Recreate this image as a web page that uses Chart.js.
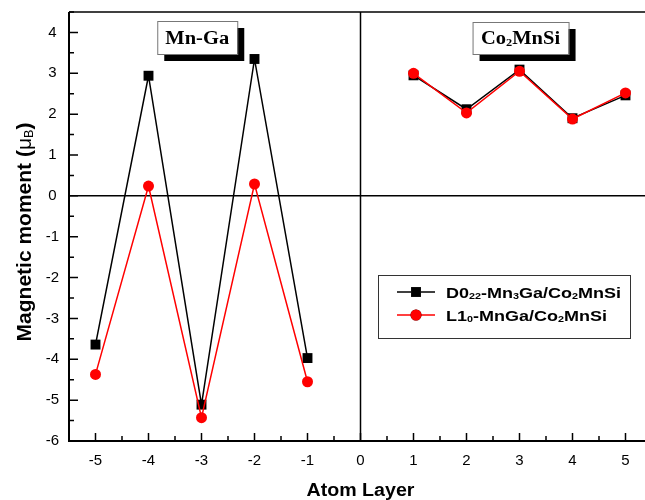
<!DOCTYPE html>
<html lang="en">
<head>
<meta charset="UTF-8" />
<title>Layer-resolved magnetic moments</title>
<script src="https://cdn.jsdelivr.net/npm/chart.js@4.4.0/dist/chart.umd.min.js"></script>
<style>
  html, body { margin: 0; padding: 0; background: #fff; overflow: hidden; }
</style>
</head>
<body>
<canvas id="moments" width="660" height="500"></canvas>
<script>
// atom layers: negative = Mn-Ga side, positive = Co2MnSi side
const layers = [-5, -4, -3, -2, -1, 0, 1, 2, 3, 4, 5];
// moments in mu_B; null at the interface keeps the two halves apart
const momentD022 = [-3.64, 2.94, -5.11, 3.35, -3.97, null, 2.95, 2.12, 3.09, 1.90, 2.46];
const momentL10 = [-4.37, 0.24, -5.43, 0.29, -4.55, null, 3.00, 2.03, 3.05, 1.88, 2.52];
const xRange = [-5.5, 5.5];
const yRange = [-6, 4.5];

// rich-text pieces: [text, subscript?, weight override]
const legendD022 = [['D0'], ['22', 1], ['-Mn'], ['3', 1], ['Ga/Co'], ['2', 1], ['MnSi']];
const legendL10 = [['L1'], ['0', 1], ['-MnGa/Co'], ['2', 1], ['MnSi']];
const boxMnGa = [['Mn-Ga']];
const boxCo2MnSi = [['Co'], ['2', 1], ['MnSi']];
const titleY = [['Magnetic moment ('], ['\u03bc', 0, 'normal'], ['B', 1, 'normal'], [')']];
const titleX = [['Atom Layer']];

const SANS = '"Liberation Sans", Arial, sans-serif';
const SERIF = '"Liberation Serif", "Times New Roman", serif';

function richWidth(ctx, parts, o) {
  let w = 0;
  parts.forEach(p => {
    const size = p[1] ? o.size * 0.6 : o.size;
    ctx.font = `${p[2] || o.weight} ${size}px ${o.family}`;
    w += ctx.measureText(p[0]).width;
  });
  return w;
}

// draws text with subscripts; y is the baseline, sx stretches horizontally
function drawRich(ctx, parts, x, y, o) {
  ctx.save();
  ctx.translate(x, y);
  ctx.scale(o.sx || 1, 1);
  const w = richWidth(ctx, parts, o);
  let cx = o.align === 'center' ? -w / 2 : (o.align === 'right' ? -w : 0);
  ctx.fillStyle = o.color || '#000';
  ctx.textBaseline = 'alphabetic';
  ctx.textAlign = 'left';
  parts.forEach(p => {
    const size = p[1] ? o.size * 0.6 : o.size;
    ctx.font = `${p[2] || o.weight} ${size}px ${o.family}`;
    ctx.fillText(p[0], cx, p[1] ? o.size * 0.1 : 0);
    cx += ctx.measureText(p[0]).width;
  });
  ctx.restore();
}

function labelBox(ctx, parts, cx, top, w, h) {
  ctx.fillStyle = '#000';
  ctx.fillRect(cx - w / 2 + 7, top + 7, w, h);
  ctx.fillStyle = '#fff';
  ctx.fillRect(cx - w / 2, top, w, h);
  ctx.strokeStyle = '#777';
  ctx.lineWidth = 1;
  ctx.strokeRect(cx - w / 2 + 0.5, top + 0.5, w, h);
  drawRich(ctx, parts, cx, top + h / 2 + 6, { size: 18, family: SERIF, weight: 'bold', sx: 1.14, align: 'center' });
}

const frame = {
  id: 'frame',
  beforeDatasetsDraw(chart) {
    const { ctx, chartArea: a, scales: { x, y } } = chart;
    ctx.save();
    ctx.strokeStyle = '#000';
    // zero lines
    ctx.lineWidth = 1.5;
    ctx.beginPath();
    ctx.moveTo(x.getPixelForValue(0), a.top);
    ctx.lineTo(x.getPixelForValue(0), a.bottom);
    ctx.moveTo(a.left, y.getPixelForValue(0));
    ctx.lineTo(a.right, y.getPixelForValue(0));
    ctx.stroke();
    // top border
    ctx.beginPath();
    ctx.moveTo(a.left, a.top);
    ctx.lineTo(a.right, a.top);
    ctx.stroke();
    ctx.restore();
  },
  afterDraw(chart) {
    const { ctx, chartArea: a, scales: { x, y } } = chart;
    ctx.save();
    ctx.strokeStyle = '#000';
    ctx.lineWidth = 2;
    ctx.beginPath();
    ctx.moveTo(a.left, a.top);
    ctx.lineTo(a.left, a.bottom);
    ctx.lineTo(a.right, a.bottom);
    ctx.stroke();

    // inward ticks, minor every half unit
    ctx.lineWidth = 1.5;
    ctx.beginPath();
    for (let v = Math.ceil(xRange[0] * 2) / 2; v <= xRange[1]; v += 0.5) {
      const px = x.getPixelForValue(v);
      const len = Number.isInteger(v) ? 8 : 5;
      ctx.moveTo(px, a.bottom);
      ctx.lineTo(px, a.bottom - len);
    }
    for (let v = yRange[0]; v <= yRange[1]; v += 0.5) {
      const py = y.getPixelForValue(v);
      const len = Number.isInteger(v) ? 9 : 5;
      ctx.moveTo(a.left, py);
      ctx.lineTo(a.left + len, py);
    }
    ctx.stroke();

    // region labels
    labelBox(ctx, boxMnGa, x.getPixelForValue(-3.08), a.top + 9, 80, 33);
    labelBox(ctx, boxCo2MnSi, x.getPixelForValue(3.02), a.top + 10, 96, 32);

    // legend
    const lx = 378, ly = 275, lw = 252, lh = 63;
    ctx.fillStyle = '#fff';
    ctx.fillRect(lx, ly, lw, lh);
    ctx.strokeStyle = '#333';
    ctx.lineWidth = 1;
    ctx.strokeRect(lx + 0.5, ly + 0.5, lw, lh);
    const rows = [legendD022, legendL10];
    chart.data.datasets.forEach((ds, i) => {
      const ry = ly + 17 + i * 23;
      ctx.strokeStyle = ds.borderColor;
      ctx.lineWidth = ds.borderWidth;
      ctx.beginPath();
      ctx.moveTo(lx + 19, ry);
      ctx.lineTo(lx + 57, ry);
      ctx.stroke();
      Chart.helpers.drawPoint(ctx, { pointStyle: ds.pointStyle, radius: ds.pointRadius, borderWidth: 0, rotation: 0 }, lx + 38, ry);
      ctx.fillStyle = ds.backgroundColor;
      ctx.fill();
      drawRich(ctx, rows[i], lx + 68, ry + 5.5, { size: 15, family: SANS, weight: 'bold', sx: 1.2 });
    });

    // axis titles
    drawRich(ctx, titleX, (a.left + a.right) / 2, 496, { size: 18, family: SANS, weight: 'bold', sx: 1.09, align: 'center' });
    ctx.save();
    ctx.translate(31, 232);
    ctx.rotate(-Math.PI / 2);
    drawRich(ctx, titleY, 0, 0, { size: 21, family: SANS, weight: 'bold', align: 'center' });
    ctx.restore();
    ctx.restore();
  }
};

const tickFont = { family: SANS, size: 15 };

new Chart(document.getElementById('moments'), {
  type: 'line',
  data: {
    datasets: [
      {
        label: 'D022-Mn3Ga/Co2MnSi',
        data: layers.map((l, i) => ({ x: l, y: momentD022[i] })),
        borderColor: '#000',
        backgroundColor: '#000',
        borderWidth: 1.5,
        pointStyle: 'rect',
        pointRadius: 7,
        pointBorderWidth: 0,
        order: 1
      },
      {
        label: 'L10-MnGa/Co2MnSi',
        data: layers.map((l, i) => ({ x: l, y: momentL10[i] })),
        borderColor: '#ff0000',
        backgroundColor: '#ff0000',
        borderWidth: 1.5,
        pointStyle: 'circle',
        pointRadius: 5.5,
        pointBorderWidth: 0,
        order: 0
      }
    ]
  },
  options: {
    responsive: false,
    animation: false,
    spanGaps: false,
    layout: { padding: { top: 12, right: 8, left: 0, bottom: 0 } },
    plugins: { legend: { display: false }, tooltip: { enabled: false } },
    scales: {
      x: {
        type: 'linear',
        min: xRange[0],
        max: xRange[1],
        grid: { display: false, drawTicks: false },
        border: { display: false },
        ticks: { padding: 11, color: '#000', font: tickFont },
        afterBuildTicks(s) { s.ticks = layers.map(v => ({ value: v })); },
        afterFit(s) { s.height = 59; s.paddingLeft = 0; s.paddingRight = 0; }
      },
      y: {
        min: yRange[0],
        max: yRange[1],
        grid: { display: false, drawTicks: false },
        border: { display: false },
        ticks: { stepSize: 1, includeBounds: false, padding: 10, crossAlign: 'center', color: '#000', font: tickFont },
        afterFit(s) { s.width = 69; s.paddingTop = 0; s.paddingBottom = 0; }
      }
    }
  },
  plugins: [frame]
});
</script>
</body>
</html>
